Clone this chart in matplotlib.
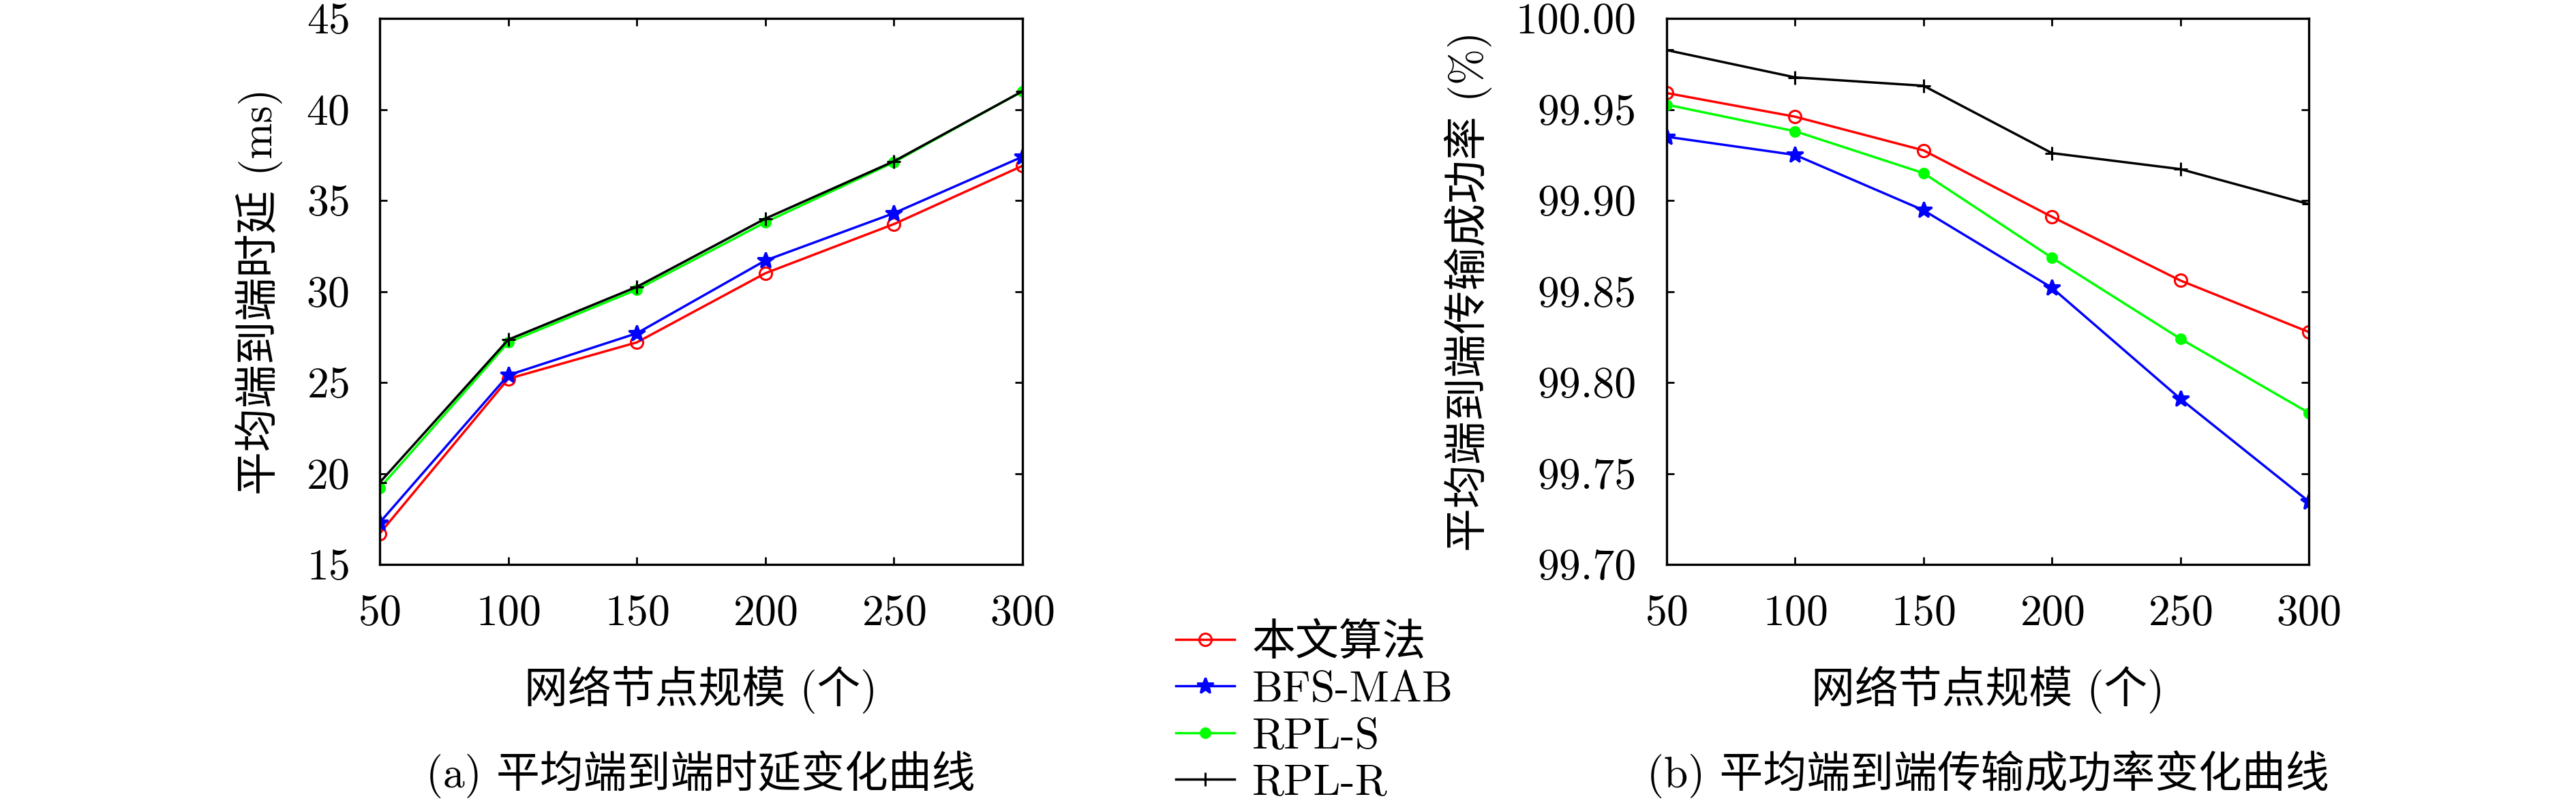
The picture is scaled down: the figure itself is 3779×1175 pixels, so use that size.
import numpy as np
import matplotlib
matplotlib.use('Agg')
import matplotlib.pyplot as plt

# 字体: 西文用 cmr10, 中文回退到 Noto Sans CJK SC
plt.rcParams['font.family'] = ['cmr10', 'Noto Sans CJK SC', 'DejaVu Sans']
plt.rcParams['axes.formatter.use_mathtext'] = True
plt.rcParams['axes.unicode_minus'] = False

# 数据
nodes = [50, 100, 150, 200, 250, 300]
labels = ['本文算法', 'BFS-MAB', 'RPL-S', 'RPL-R']

delay_ours = [16.7, 25.2, 27.2, 31.0, 33.7, 36.9]
delay_bfs = [17.3, 25.4, 27.7, 31.7, 34.3, 37.4]
delay_rpls = [19.2, 27.2, 30.1, 33.8, 37.1, 41.0]
delay_rplr = [19.5, 27.35, 30.25, 34.0, 37.15, 41.0]

pdr_ours = [99.959, 99.946, 99.9275, 99.891, 99.856, 99.8277]
pdr_bfs = [99.935, 99.925, 99.8946, 99.852, 99.791, 99.7346]
pdr_rpls = [99.9526, 99.938, 99.915, 99.8685, 99.824, 99.7833]
pdr_rplr = [99.9826, 99.9676, 99.963, 99.926, 99.9172, 99.898]

colors = ['#ff0000', '#0000ff', '#00ff00', '#000000']
markers = ['o', '*', 'o', '+']
msizes = [13, 18, 10, 15]
mfcs = ['none', '#0000ff', '#00ff00', 'none']

fs = 46
fig = plt.figure(figsize=(37.8, 11.75), dpi=100)
W, H = 3780, 1175
ax1 = fig.add_axes([557 / W, 1 - 828 / H, (1500 - 557) / W, (828 - 27) / H])
ax2 = fig.add_axes([2445 / W, 1 - 828 / H, (3387 - 2445) / W, (828 - 27) / H])


def draw(ax, series):
    for ys, c, m, ms, mfc, lab in zip(series, colors, markers, msizes, mfcs, labels):
        ax.plot(nodes, ys, color=c, marker=m, markersize=ms, markerfacecolor=mfc,
                markeredgecolor=c, markeredgewidth=2.2, linewidth=2.5, label=lab)
    ax.set_xlim(50, 300)
    ax.set_xticks(nodes)
    ax.tick_params(direction='in', top=True, right=True, length=8, width=2,
                   labelsize=fs, pad=32)
    for s in ax.spines.values():
        s.set_linewidth(2.4)


draw(ax1, [delay_ours, delay_bfs, delay_rpls, delay_rplr])
ax1.set_ylim(15, 45)
ax1.set_yticks([15, 20, 25, 30, 35, 40, 45])
ax1.set_ylabel('平均端到端时延 (ms)', fontsize=fs, labelpad=25)
ax1.set_xlabel('网络节点规模 (个)', fontsize=fs, labelpad=33)

draw(ax2, [pdr_ours, pdr_bfs, pdr_rpls, pdr_rplr])
ax2.set_ylim(99.70, 100.00)
ax2.set_yticks([99.70, 99.75, 99.80, 99.85, 99.90, 99.95, 100.00])
ax2.set_yticklabels(['99.70', '99.75', '99.80', '99.85', '99.90', '99.95', '100.00'])
ax2.set_ylabel('平均端到端传输成功率 (%)', fontsize=fs, labelpad=25)
ax2.set_xlabel('网络节点规模 (个)', fontsize=fs, labelpad=33)

# 子图标题
fig.text(1028 / W, 1 - 1136 / H, '(a) 平均端到端时延变化曲线', fontsize=fs,
         ha='center', va='center')
fig.text(2916 / W, 1 - 1136 / H, '(b) 平均端到端传输成功率变化曲线', fontsize=fs,
         ha='center', va='center')

h, l = ax1.get_legend_handles_labels()
fig.legend(h, l, loc='upper left', bbox_to_anchor=(1725 / W, 1 - 914 / H),
           frameon=False, fontsize=fs, borderpad=0, borderaxespad=0,
           handlelength=1.35, handletextpad=0.4, labelspacing=0.16)

fig.savefig('out.png', dpi=100)
